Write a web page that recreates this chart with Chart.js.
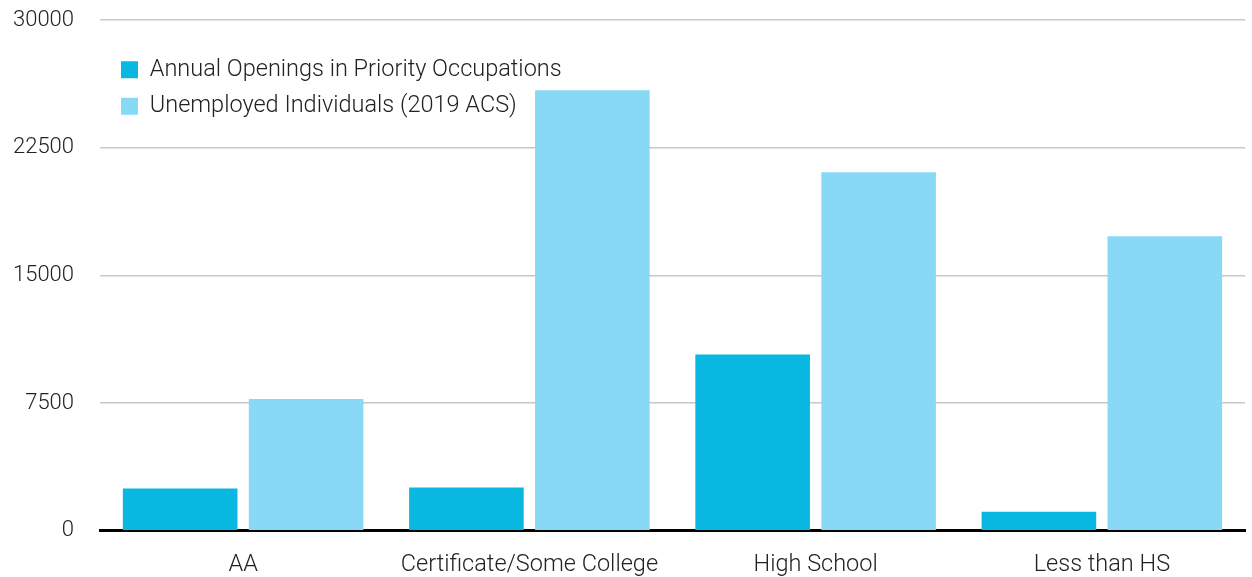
<!DOCTYPE html>
<html>
<head>
<meta charset="utf-8">
<script src="https://cdn.jsdelivr.net/npm/chart.js@4/dist/chart.umd.min.js"></script>
<style>
  html, body { margin: 0; padding: 0; background: #fff; }
  #wrap { width: 1252px; height: 577px; }
</style>
</head>
<body>
<div id="wrap"><canvas id="chart"></canvas></div>
<script>
// Education levels on the x axis
const categories = ["AA", "Certificate/Some College", "High School", "Less than HS"];

// Series values
const annualOpenings = [2490, 2540, 10350, 1120];
const unemployed = [7740, 25880, 21060, 17300];

// Y axis ticks
const yTicks = [0, 7500, 15000, 22500, 30000];

const FONT = "Roboto";

// nudge the legend inside the plot area (it sits below the top gridline in the original)
const legendOffset = {
  id: "legendOffset",
  afterUpdate(chart) {
    chart.legend.left += 8;
    chart.legend.top += 45;
  },
};

const ctx = document.getElementById("chart").getContext("2d");

new Chart(ctx, {
  type: "bar",
  data: {
    labels: categories,
    datasets: [
      {
        label: "Annual Openings in Priority Occupations",
        data: annualOpenings,
        backgroundColor: "#08b8e0",
        categoryPercentage: 0.88,
        barPercentage: 0.91,
      },
      {
        label: "Unemployed Individuals (2019 ACS)",
        data: unemployed,
        backgroundColor: "#87d9f5",
        categoryPercentage: 0.88,
        barPercentage: 0.91,
      },
    ],
  },
  options: {
    responsive: true,
    maintainAspectRatio: false,
    animation: false,
    events: [],
    layout: { padding: { top: 20, right: 7, left: 0, bottom: -2 } },
    scales: {
      x: {
        grid: { display: false, drawTicks: true, tickLength: 20 },
        border: { display: true, color: "#000", width: 3 },
        ticks: {
          color: "#222",
          padding: 0,
          font: { family: FONT, size: 23.5, weight: 300 },
        },
      },
      y: {
        min: 0,
        max: 30000,
        afterBuildTicks: (axis) => {
          axis.ticks = yTicks.map((v) => ({ value: v }));
        },
        afterFit: (axis) => {
          axis.width = 100;
        },
        // invisible tick marks keep the labels away from the plot without extra top padding
        grid: { color: "#c8c8c8", lineWidth: 1.5, drawTicks: true, tickLength: 24, tickColor: "rgba(0,0,0,0)" },
        border: { display: false },
        ticks: {
          color: "#222",
          padding: 2,
          font: { family: FONT, size: 22, weight: 300 },
          callback: (v) => String(v),
        },
      },
    },
    plugins: {
      legend: {
        position: "chartArea",
        fullSize: false,
        align: "start",
        labels: {
          boxWidth: 17,
          boxHeight: 17,
          padding: 13,
          color: "#222",
          font: { family: FONT, size: 23.5, weight: 300 },
        },
      },
      tooltip: { enabled: false },
    },
  },
  plugins: [legendOffset],
});
</script>
</body>
</html>
